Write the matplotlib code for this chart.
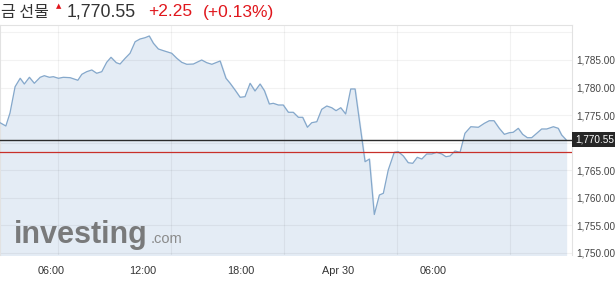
import matplotlib
matplotlib.use("Agg")
import matplotlib.pyplot as plt

plt.rcParams['font.family'] = ['Liberation Sans', 'Noto Sans CJK KR', 'DejaVu Sans']

# Dados (hora desde 00:00 de 29/abr, preço)
horas = [2.94, 3.25, 3.47, 3.74, 4.01, 4.23, 4.50, 4.76, 5.07, 5.29, 5.56, 5.77,
         6.04, 6.30, 6.66, 7.07, 7.28, 7.54, 7.81, 8.07, 8.34, 8.60, 8.83, 9.11,
         9.31, 9.58, 9.84, 10.11, 10.37, 10.64, 10.86, 11.08, 11.34, 11.61, 12.05,
         12.32, 12.58, 12.85, 13.20, 13.64, 13.91, 14.18, 14.62, 14.93, 15.15, 15.41,
         15.68, 15.94, 16.21, 16.47, 16.74, 16.97, 17.23, 17.44, 17.71, 17.97, 18.24,
         18.50, 18.77, 19.00, 19.25, 19.48, 19.75, 20.01, 20.28, 20.54, 20.77, 21.02,
         21.28, 21.55, 21.78, 22.31, 22.54, 22.80, 23.07, 23.28, 23.54, 23.86, 24.07,
         24.34, 24.60, 24.84, 25.08, 25.32, 25.58, 25.85, 26.11, 26.38, 26.60, 26.82,
         27.08, 27.35, 27.61, 27.92, 28.32, 28.64, 28.90, 29.15, 29.43, 29.70, 29.96,
         30.17, 30.44, 30.67, 30.92, 31.15, 31.42, 31.68, 31.95, 32.30, 32.56, 32.74,
         32.97]
precos = [1773.62, 1773.02, 1775.38, 1780.15, 1781.68, 1780.64, 1781.86, 1780.77,
          1781.86, 1782.15, 1781.86, 1781.97, 1781.68, 1781.86, 1781.79, 1781.32,
          1782.40, 1782.88, 1783.19, 1782.59, 1782.88, 1784.58, 1785.49, 1784.51,
          1784.27, 1785.31, 1786.22, 1788.32, 1788.81, 1789.05, 1789.36, 1788.03,
          1787.00, 1786.69, 1786.22, 1785.31, 1784.58, 1784.22, 1784.27, 1785.00,
          1784.51, 1784.22, 1784.82, 1781.68, 1780.77, 1779.56, 1778.23, 1778.34,
          1780.77, 1779.37, 1780.64, 1779.43, 1777.01, 1777.14, 1776.83, 1776.83,
          1775.51, 1775.51, 1774.60, 1774.60, 1772.79, 1773.62, 1773.80, 1776.05,
          1776.65, 1776.34, 1775.80, 1776.34, 1775.20, 1779.74, 1779.74, 1766.54,
          1767.03, 1756.96, 1760.50, 1760.81, 1765.04, 1768.25, 1768.36, 1767.58,
          1766.36, 1766.25, 1767.34, 1767.03, 1767.94, 1767.94, 1768.25, 1767.94,
          1767.45, 1767.58, 1768.48, 1768.25, 1771.70, 1772.89, 1772.79, 1773.51,
          1773.98, 1773.98, 1772.60, 1771.51, 1771.80, 1771.88, 1772.60, 1771.51,
          1770.90, 1770.90, 1771.70, 1772.48, 1772.48, 1772.89, 1772.60, 1771.39,
          1770.55]

ultimo = 1770.55
fechamento_anterior = 1768.30
variacao = "+2.25"
variacao_pct = "(+0.13%)"

rotulos_x = ["06:00", "12:00", "18:00", "Apr 30", "06:00"]
posicoes_x = [5.65, 10.53, 15.73, 20.88, 25.92]
grade_x = [6, 12, 18, 24, 30]
rotulos_y = [1750, 1755, 1760, 1765, 1775, 1780, 1785]
grade_y = [1750, 1755, 1760, 1765, 1770, 1775, 1780, 1785, 1790]

fig = plt.figure(figsize=(6.15, 2.9), dpi=100)
ax = fig.add_axes([0, 1 - 255 / 290, 572 / 615, 230 / 290])

y_min, y_max = 1749.61, 1791.35
ax.set_xlim(2.94, 33.29)
ax.set_ylim(y_min, y_max)

# Área e linha
ax.fill_between(horas, precos, y_min, color='#e4ecf5', zorder=1)
ax.plot(horas, precos, color='#85a8cb', lw=0.9, zorder=3)

# Grade
for g in grade_x:
    ax.axvline(g, color=(0, 0, 0, 0.05), lw=0.8, zorder=2)
for g in grade_y:
    ax.axhline(g, color=(0, 0, 0, 0.05), lw=0.8, zorder=2)

# Linhas de último preço e fechamento anterior
ax.axhline(ultimo, color='#2b2b2b', lw=1.0, zorder=4)
ax.axhline(fechamento_anterior, color='#c8302a', lw=0.9, zorder=4)

# Eixos
ax.yaxis.tick_right()
ax.set_yticks(rotulos_y)
ax.set_yticklabels([f"{v:,.2f}" for v in rotulos_y])
ax.set_xticks(posicoes_x)
ax.set_xticklabels(rotulos_x)
ax.tick_params(axis='y', length=0, pad=3, labelsize=7.2, labelcolor='#444444')
ax.tick_params(axis='x', length=0, pad=8, labelsize=7.8, labelcolor='#333333')
for lado in ['top', 'right', 'left']:
    ax.spines[lado].set_color('#e2e2e2')
    ax.spines[lado].set_linewidth(0.8)
ax.spines['bottom'].set_visible(False)

# Caixa do último preço
ax.text(1.005, ultimo, f"{ultimo:,.2f}", transform=ax.get_yaxis_transform(),
        ha='left', va='center', fontsize=7.2, color='white', zorder=6,
        bbox=dict(boxstyle='square,pad=0.25', fc='#262626', ec='none'), clip_on=False)

# Logo
fig.text(14 / 615, 1 - 243 / 290, "investing", fontsize=22, fontweight='bold',
         color='#6e6e6e', alpha=0.9, ha='left', va='baseline')
fig.text(151 / 615, 1 - 243 / 290, ".com", fontsize=10.5,
         color='#8a8a8a', ha='left', va='baseline')

# Cabeçalho
fig.text(1 / 615, 1 - 12 / 290, "금 선물", fontsize=11.5, color='#333333',
         family=['Noto Sans CJK KR', 'DejaVu Sans'], ha='left', va='center')
fig.text(56 / 615, 1 - 6 / 290, "▲", fontsize=5, color='#e0161c',
         family=['DejaVu Sans'], ha='left', va='center')
fig.text(67 / 615, 1 - 12 / 290, f"{ultimo:,.2f}", fontsize=12.8, color='#333333',
         ha='left', va='center')
fig.text(148 / 615, 1 - 12 / 290, variacao, fontsize=12.5, color='#e0161c',
         ha='left', va='center')
fig.text(203 / 615, 1 - 12 / 290, variacao_pct, fontsize=12.5, color='#e0161c',
         ha='left', va='center')

fig.savefig("out.png", dpi=100)
